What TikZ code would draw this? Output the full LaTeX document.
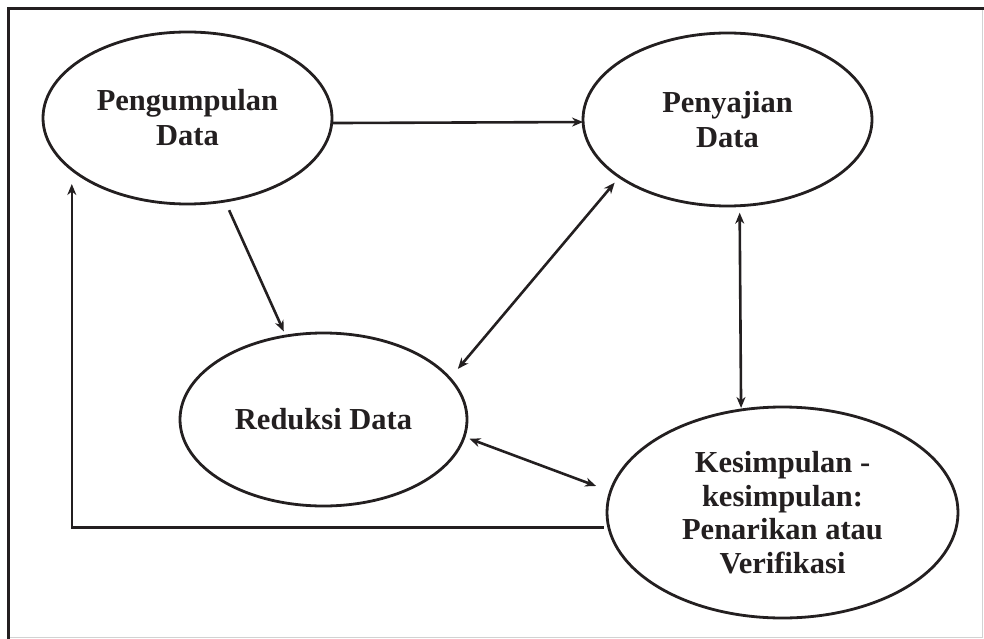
\documentclass[tikz,border=0pt]{standalone}
\usepackage{fontspec}
\setmainfont{Liberation Serif}
\usetikzlibrary{shapes.geometric,arrows.meta}
\definecolor{ink}{RGB}{35,31,32}
\begin{document}
\begin{tikzpicture}[x=1pt,y=-1pt,
  >={Stealth[length=11pt,width=9pt,inset=3.5pt]},
  stage/.style={ellipse,draw=ink,line width=2.8pt,inner sep=0pt,outer sep=0pt,
    align=center,text=ink,font=\fontsize{30.5}{35}\selectfont\bfseries},
  link/.style={draw=ink,line width=2.6pt}]
\useasboundingbox (0,0) rectangle (984,639);

% page frame
\draw[gray!35,line width=1.5pt] (8,637.5) -- (982.5,637.5) -- (982.5,8);
\draw[ink,line width=3pt] (8.5,639) -- (8.5,8.5) -- (984,8.5);

% stages of the analysis
\node[stage,minimum width=289pt,minimum height=172pt] (pg) at (187.5,118) {Pengumpulan\\Data};
\node[stage,minimum width=289pt,minimum height=173pt] (pj) at (727.5,119.5) {Penyajian\\Data};
\node[stage,minimum width=287pt,minimum height=173pt] (rd) at (323.5,419.5) {Reduksi Data};
\node[stage,minimum width=351pt,minimum height=211pt,
  font=\fontsize{30.5}{33.5}\selectfont\bfseries] (kz) at (782.5,512.5)
  {Kesimpulan -\\kesimpulan:\\Penarikan atau\\Verifikasi};

% connections
\draw[link,->] (pg.358) -- (pj.181.4);
\draw[link,->,shorten <=10pt,shorten >=5pt] (pg) -- (rd);
\draw[link,<->,shorten <=12.5pt,shorten >=7.5pt] (rd.18.5) -- (pj.208.2);
\draw[link,<->,shorten <=7pt,shorten >=2pt] (pj.278.9) -- (kz.112);
\draw[link,<->,shorten <=5.7pt,shorten >=15.5pt] (rd.353.8) -- (kz.173.9);
\draw[link,->,shorten <=5pt,shorten >=14.5pt] (kz.185.1) -| (pg.204.6);
\end{tikzpicture}
\end{document}
